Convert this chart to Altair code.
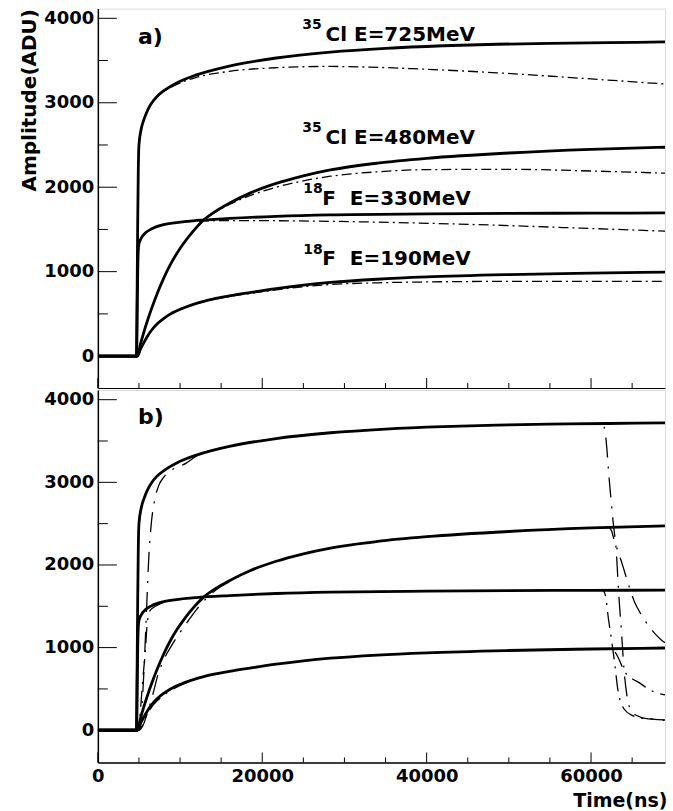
import altair as alt
import pandas as pd

FONT = "DejaVu Sans"

# ---------------- data (time in ns, amplitude in ADU) ----------------
# measured pulses (solid), identical in panels a) and b)
t_cl725 = [0, 4700, 4780, 4850, 4920, 5000, 5300, 5600, 6000, 6500, 7200, 8000, 9600, 12000, 16000, 21700, 28300, 35000, 42000, 48500, 55000, 62000, 69000]
v_cl725 = [0, 0, 800, 1600, 2200, 2500, 2700, 2800, 2900, 2990, 3075, 3140, 3235, 3330, 3435, 3530, 3600, 3645, 3675, 3693, 3704, 3712, 3720]

t_cl480 = [0, 4800, 5200, 5600, 6000, 6600, 7200, 8000, 8800, 9600, 10400, 11600, 12800, 14400, 16000, 18500, 21700, 25000, 28300, 34000, 40000, 50000, 60000, 69000]
v_cl480 = [0, 0, 150, 285, 410, 580, 735, 920, 1080, 1215, 1330, 1480, 1605, 1720, 1810, 1930, 2045, 2135, 2205, 2285, 2342, 2405, 2448, 2473]

t_f330 = [0, 4700, 4780, 4850, 4920, 5000, 5300, 5800, 6500, 8000, 10000, 12000, 16000, 21700, 28300, 40000, 50000, 60000, 69000]
v_f330 = [0, 0, 500, 1000, 1250, 1330, 1400, 1460, 1505, 1557, 1587, 1606, 1630, 1655, 1672, 1683, 1689, 1693, 1695]

t_f190 = [0, 4800, 5200, 5600, 6000, 6600, 7200, 8000, 8800, 10400, 12000, 14000, 16000, 18500, 21700, 25000, 28300, 34000, 40000, 50000, 60000, 69000]
v_f190 = [0, 0, 85, 160, 230, 315, 380, 445, 497, 570, 625, 675, 712, 752, 800, 840, 872, 910, 937, 965, 983, 995]

# panel a) dash-dot pulses
t_cl725_a = [0, 4700, 4780, 4850, 4920, 5000, 5300, 5600, 6000, 6500, 7200, 8000, 9600, 12000, 16000, 21700, 28300, 33000, 38400, 48500, 58800, 69000]
v_cl725_a = [0, 0, 800, 1600, 2200, 2500, 2700, 2800, 2900, 2990, 3072, 3132, 3218, 3300, 3372, 3415, 3430, 3422, 3403, 3355, 3290, 3222]

t_cl480_a = [0, 4800, 5200, 5600, 6000, 6600, 7200, 8000, 8800, 9600, 10400, 11600, 12800, 14400, 16000, 18500, 21700, 25000, 28300, 34000, 40000, 50000, 60000, 69000]
v_cl480_a = [0, 0, 150, 285, 410, 580, 735, 920, 1080, 1215, 1330, 1480, 1600, 1710, 1795, 1900, 2000, 2075, 2130, 2182, 2208, 2212, 2192, 2166]

t_f330_a = [0, 4700, 4780, 4850, 4920, 5000, 5300, 5800, 6500, 8000, 10000, 12000, 16000, 21700, 28300, 38000, 48500, 58800, 69000]
v_f330_a = [0, 0, 500, 1000, 1250, 1330, 1400, 1460, 1505, 1555, 1583, 1597, 1605, 1603, 1596, 1578, 1550, 1515, 1480]

t_f190_a = [0, 4800, 5200, 5600, 6000, 6600, 7200, 8000, 8800, 10400, 12000, 14000, 16000, 18500, 21700, 25000, 28300, 34000, 40000, 50000, 60000, 69000]
v_f190_a = [0, 0, 85, 160, 230, 315, 380, 445, 497, 570, 623, 670, 705, 742, 785, 822, 848, 868, 878, 885, 886, 884]

# panel b) delayed pulses
t_cl725_b = [0, 5000, 5300, 5600, 5900, 6200, 6500, 6900, 7400, 8000, 9000, 10700, 12000, 16000, 21700, 28300, 35000, 42000, 48500, 55000, 61000, 61500, 61800, 62200, 62700, 63060, 63400, 63700, 64000, 64400, 65000, 66000, 67700, 69000]
v_cl725_b = [0, 0, 200, 700, 1400, 2100, 2500, 2780, 2960, 3060, 3150, 3230, 3318, 3435, 3530, 3600, 3645, 3675, 3693, 3704, 3711, 3690, 3540, 3050, 2510, 2180, 1600, 1200, 750, 400, 220, 160, 130, 120]

t_cl480_b = [0, 5000, 5500, 6000, 6600, 7400, 8000, 9000, 10000, 11000, 12000, 13000, 14400, 16000, 18500, 21700, 25000, 28300, 34000, 40000, 50000, 60000, 62200, 62500, 62850, 63400, 63750, 64550, 65240, 65850, 66450, 67860, 68700, 69000]
v_cl480_b = [0, 0, 60, 200, 400, 700, 850, 1030, 1185, 1325, 1460, 1575, 1700, 1795, 1925, 2045, 2135, 2205, 2285, 2342, 2405, 2448, 2452, 2410, 2290, 2130, 2025, 1765, 1565, 1443, 1342, 1160, 1080, 1060]

t_f330_b = [0, 4900, 5100, 5300, 5580, 5770, 5980, 6180, 6400, 7000, 8000, 10000, 12000, 16000, 21700, 28300, 40000, 50000, 60000, 61400, 61700, 62130, 62540, 62940, 63220, 63500, 64000, 65000, 66000, 67500, 69000]
v_f330_b = [0, 0, 150, 400, 740, 940, 1265, 1400, 1455, 1500, 1550, 1587, 1606, 1630, 1655, 1672, 1683, 1689, 1693, 1693, 1650, 1340, 1060, 760, 520, 375, 260, 180, 150, 135, 125]

t_f190_b = [0, 4900, 5300, 5600, 6000, 6500, 7200, 8000, 9000, 10500, 12000, 14000, 16000, 18500, 21700, 25000, 28300, 34000, 40000, 50000, 60000, 62400, 62800, 63300, 63830, 64300, 64900, 65850, 67050, 68670, 69000]
v_f190_b = [0, 0, 40, 110, 195, 275, 355, 425, 490, 565, 622, 673, 712, 752, 800, 840, 872, 910, 937, 965, 983, 985, 960, 880, 760, 680, 630, 576, 495, 435, 428]

# axis ticks
y_major = [0, 1000, 2000, 3000, 4000]
y_minor = [500, 1500, 2500, 3500]
x_major = [0, 20000, 40000, 60000]
x_minor = [5000, 10000, 15000, 25000, 30000, 35000, 45000, 50000, 55000, 65000]

# annotations
label_main = ["Cl\u00a0E=725MeV", "Cl\u00a0E=480MeV", "F\u00a0\u00a0E=330MeV", "F\u00a0\u00a0E=190MeV"]
label_main_t = [27700, 27700, 27300, 27300]
label_main_v = [3728, 2509, 1787, 1077]
label_sup = ["35", "35", "18", "18"]
label_sup_t = [24880, 24880, 25000, 25000]
label_sup_v = [3870, 2651, 1935, 1207]
tag_text = ["a)", "b)"]
tag_t = [4880, 4880]
tag_v = [3700, 3706]

# ---------------- build tables ----------------
def curves(pairs):
    return pd.concat([pd.DataFrame({"t": t, "v": v, "curve": n}) for n, t, v in pairs], ignore_index=True)

solid_df = curves([("cl725", t_cl725, v_cl725), ("cl480", t_cl480, v_cl480),
                   ("f330", t_f330, v_f330), ("f190", t_f190, v_f190)])
dd_a_df = curves([("cl725", t_cl725_a, v_cl725_a), ("cl480", t_cl480_a, v_cl480_a),
                  ("f330", t_f330_a, v_f330_a), ("f190", t_f190_a, v_f190_a)])
cl_b_df = curves([("cl725", t_cl725_b, v_cl725_b), ("cl480", t_cl480_b, v_cl480_b)])
f_b_df = curves([("f330", t_f330_b, v_f330_b), ("f190", t_f190_b, v_f190_b)])

ymaj_df = pd.DataFrame({"v": y_major})
ymin_df = pd.DataFrame({"v": y_minor})
xmaj_df = pd.DataFrame({"t": x_major})
xmin_df = pd.DataFrame({"t": x_minor})
main_df = pd.DataFrame({"t": label_main_t, "v": label_main_v, "txt": label_main})
sup_df = pd.DataFrame({"t": label_sup_t, "v": label_sup_v, "txt": label_sup})
tag_a_df = pd.DataFrame({"t": tag_t[:1], "v": tag_v[:1], "txt": tag_text[:1]})
tag_b_df = pd.DataFrame({"t": tag_t[1:], "v": tag_v[1:], "txt": tag_text[1:]})

W = 568
HA = 380
HB = 373

xscale = alt.Scale(domain=[0, 69000], nice=False, zero=False)

X_a = alt.X("t:Q", scale=xscale,
            axis=alt.Axis(labels=False, ticks=False, tickSize=0, title=None, grid=False,
                          domainColor="black", domainWidth=1))
X_b = alt.X("t:Q", scale=xscale,
            axis=alt.Axis(values=x_major, ticks=False, tickSize=0, grid=False, format="d",
                          labelPadding=5, labelFont=FONT, labelFontSize=18, labelFontWeight="bold",
                          labelColor="black", labelFlush=False,
                          title="Time(ns)", titleFont=FONT, titleFontSize=19, titleFontWeight="bold",
                          titleColor="black", titleAnchor="end", titleAlign="right",
                          titleBaseline="alphabetic", titleX=W + 2, titleY=44,
                          domainColor="black", domainWidth=1.5))
Y_a = alt.Y("v:Q", scale=alt.Scale(domain=[-378, 4115], nice=False, zero=False),
            axis=alt.Axis(values=y_major, ticks=False, tickSize=0, grid=False, format="d",
                          labelPadding=4, labelFont=FONT, labelFontSize=18, labelFontWeight="bold",
                          labelColor="black", labelFlush=False,
                          title="Amplitude(ADU)", titleFont=FONT, titleFontSize=20, titleFontWeight="bold",
                          titleColor="black", titleAngle=270, titleAlign="right",
                          titleBaseline="alphabetic", titleX=-62, titleY=0,
                          domainColor="black", domainWidth=1.5))
Y_b = alt.Y("v:Q", scale=alt.Scale(domain=[-390, 4117], nice=False, zero=False),
            axis=alt.Axis(values=y_major, ticks=False, tickSize=0, grid=False, format="d",
                          labelPadding=4, labelFont=FONT, labelFontSize=18, labelFontWeight="bold",
                          labelColor="black", labelFlush=False, title=None,
                          domainColor="black", domainWidth=1.5))


def panel(X, Y, H, dashed_layers, tag_df, with_labels):
    solid = alt.Chart(solid_df).mark_line(color="black", strokeWidth=2.8, interpolate="monotone",
                                          clip=True).encode(x=X, y=Y, detail="curve:N")
    layers = [solid] + [
        alt.Chart(df).mark_line(color="black", strokeWidth=sw, strokeDash=dash, interpolate="monotone",
                                clip=True).encode(x=X, y=Y, detail="curve:N")
        for df, dash, sw in dashed_layers
    ]
    layers += [
        alt.Chart(ymaj_df).mark_rule(color="black", strokeWidth=1).encode(
            y=Y, x=alt.value(0), x2=alt.value(19)),
        alt.Chart(ymin_df).mark_rule(color="black", strokeWidth=1).encode(
            y=Y, x=alt.value(0), x2=alt.value(10)),
        alt.Chart(xmaj_df).mark_rule(color="black", strokeWidth=1).encode(
            x=X, y=alt.value(H), y2=alt.value(H - 10)),
        alt.Chart(xmin_df).mark_rule(color="black", strokeWidth=1).encode(
            x=X, y=alt.value(H), y2=alt.value(H - 5)),
        alt.Chart(tag_df).mark_text(font=FONT, fontSize=22, fontWeight="bold", align="left",
                                    baseline="alphabetic", color="black").encode(x=X, y=Y, text="txt:N"),
    ]
    if with_labels:
        layers += [
            alt.Chart(sup_df).mark_text(font=FONT, fontSize=14, fontWeight="bold", align="left",
                                        baseline="alphabetic", color="black").encode(x=X, y=Y, text="txt:N"),
            alt.Chart(main_df).mark_text(font=FONT, fontSize=20, fontWeight="bold", align="left",
                                         baseline="alphabetic", color="black").encode(x=X, y=Y, text="txt:N"),
        ]
    return alt.layer(*layers).properties(width=W, height=H)


panel_a = panel(X_a, Y_a, HA, [(dd_a_df, [10, 4, 2, 4], 1.3)], tag_a_df, True)
panel_b = panel(X_b, Y_b, HB, [(cl_b_df, [20, 9, 2, 9], 1.3), (f_b_df, [16, 7, 2, 7], 1.3)], tag_b_df, False)

chart = (
    alt.vconcat(panel_a, panel_b, spacing=0)
    .resolve_scale(y="independent")
    .properties(padding={"left": 19, "top": 7, "right": 5, "bottom": 3})
    .configure_view(stroke="black", strokeWidth=1)
    .configure(background="white")
)

chart.save("out.html", embed_options={"renderer": "svg", "actions": False})
